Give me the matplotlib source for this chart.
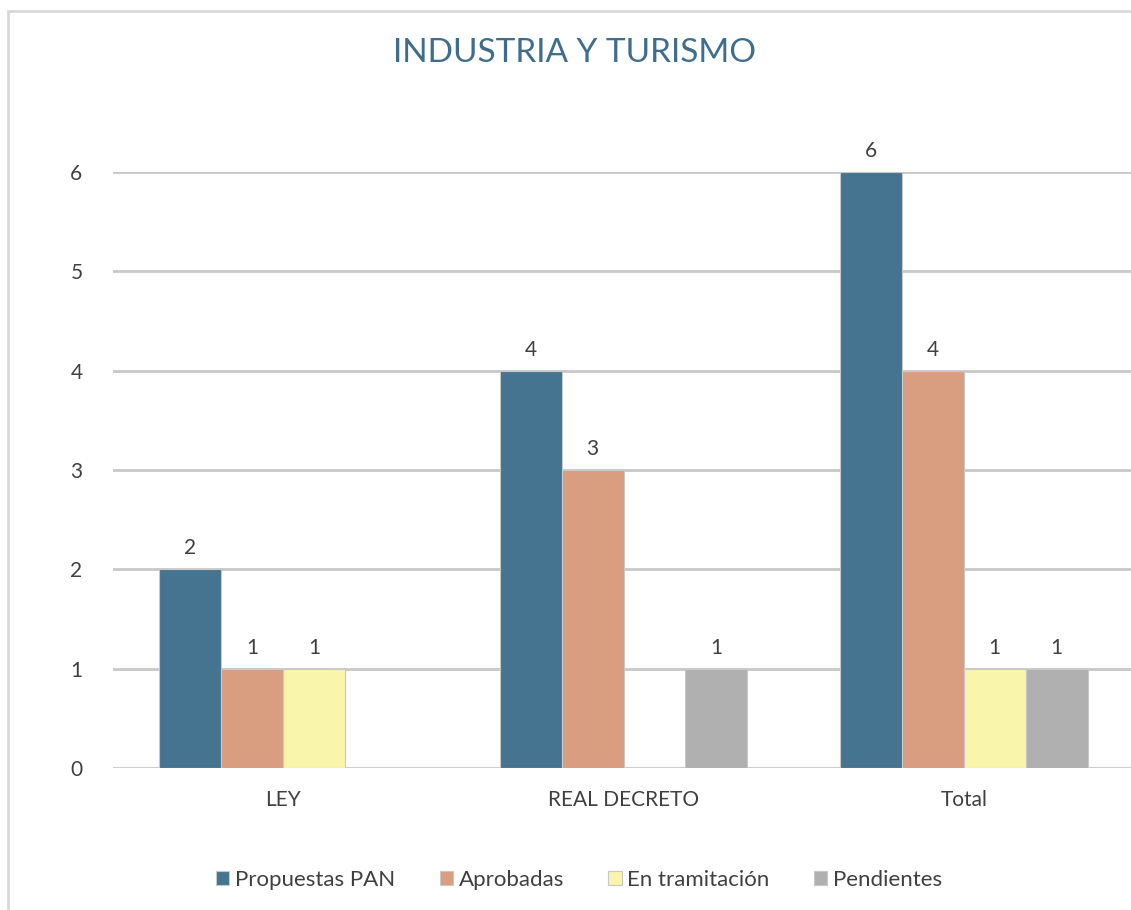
import numpy as np
import matplotlib.pyplot as plt
from matplotlib.patches import Rectangle

categories = ['LEY', 'REAL DECRETO', 'Total']
series = ['Propuestas PAN', 'Aprobadas', 'En tramitación', 'Pendientes']
propuestas = [2, 4, 6]
aprobadas = [1, 3, 4]
tramitacion = [1, 0, 1]
pendientes = [0, 1, 1]
colors = ['#457491', '#D99E7F', '#F9F5AA', '#B0B0B0']

plt.rcParams['font.family'] = ['Lato', 'DejaVu Sans']

W, H = 1131, 910
fig = plt.figure(figsize=(W / 100, H / 100), dpi=100)
fig.patches.append(Rectangle((8 / W, -0.1), 1.2, (H - 11) / H + 0.1, transform=fig.transFigure,
                             fill=False, edgecolor='#d9d9d9', linewidth=2))

left, right, y0, y6 = 113, 1134, 768, 172
ax = fig.add_axes([left / W, (H - y0) / H, (right - left) / W, (y0 - y6) / H])

x = np.arange(len(categories))
bw = 0.182
values = [propuestas, aprobadas, tramitacion, pendientes]
for i, (name, vals, c) in enumerate(zip(series, values, colors)):
    pos = x + (i - 1.5) * bw
    v = np.array(vals)
    bars = ax.bar(pos[v > 0], v[v > 0], bw, color=c, edgecolor='#c8c8c8', linewidth=0.8,
                  label=name, zorder=3)
    for b in bars:
        ax.text(b.get_x() + b.get_width() / 2, b.get_height() + 0.11, f'{int(b.get_height())}',
                ha='center', va='bottom', fontsize=15, color='#404040', clip_on=False)

ax.set_xlim(-0.5, 2.5)
ax.set_ylim(0, 6)
ax.set_yticks(range(7))
ax.set_xticks(x)
ax.set_xticklabels(categories)
ax.tick_params(axis='both', length=0, labelsize=15, labelcolor='#404040')
ax.tick_params(axis='y', pad=22)
ax.tick_params(axis='x', pad=16)
ax.grid(axis='y', color='#c8c8c8', linewidth=2, zorder=0)
for s in ax.spines.values():
    s.set_visible(False)
ax.set_axisbelow(True)

fig.text(575 / W, 1 - 53 / H, 'INDUSTRIA Y TURISMO', ha='center', va='center',
         fontsize=24, color='#3F6E8C')

fig.legend(loc='center', bbox_to_anchor=(579 / W, 1 - 880 / H), ncol=4, frameon=False,
           fontsize=16, handlelength=0.6, handleheight=0.6, handletextpad=0.25,
           columnspacing=2.0, labelcolor='#404040')

fig.savefig('out.png', dpi=100)
